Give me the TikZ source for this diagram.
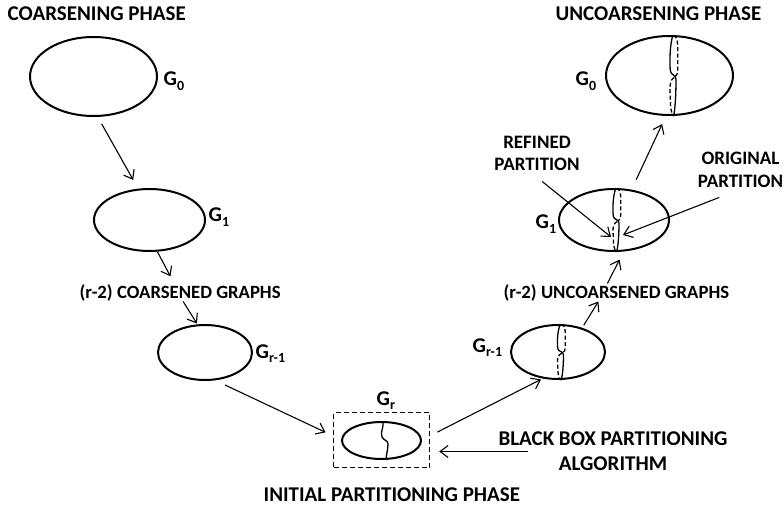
\documentclass[tikz,border=0pt]{standalone}
\usepackage{fontspec}
\setmainfont{Carlito}
\usetikzlibrary{shapes.geometric,arrows.meta}
\newcommand{\Gsub}[1]{G\raisebox{-4.5pt}{\fontsize{14}{14}\selectfont #1}}
\tikzset{pics/cut/.style={code={
  \draw (0,-1) .. controls (-0.1,-0.8) and (-0.12,-0.35) .. (-0.09,-0.12) .. controls (-0.07,0) and (0.1,-0.03) .. (0.1,0.1) .. controls (0.1,0.45) and (0.07,0.85) .. (0.02,1);
  \draw[dash pattern=on 4pt off 2.5pt] (0.02,-0.99) .. controls (0.15,-0.95) and (0.16,-0.8) .. (0.16,-0.6) -- (0.16,-0.15) .. controls (0.16,-0.05) and (0.12,0) .. (0.08,0.02);
  \draw[dash pattern=on 4pt off 2.5pt] (0.04,0.05) .. controls (-0.08,0.1) and (-0.1,0.2) .. (-0.1,0.35) -- (-0.08,0.75) .. controls (-0.06,0.9) and (-0.02,0.97) .. (0.02,1);
}}}
\begin{document}
\begin{tikzpicture}[x=1pt, y=-1pt, line width=1.3pt,
  graph/.style={draw, ellipse, inner sep=0pt, line width=2pt},
  arr/.style={-{Straight Barb[length=8pt, width=12pt]}, line width=1.1pt},
  txt/.style={font=\bfseries\fontsize{21}{22}\selectfont, inner sep=0pt},
  small/.style={font=\bfseries\fontsize{18.7}{22}\selectfont, inner sep=0pt}]
  \useasboundingbox (0,0) rectangle (784,505);
  % headings
  \node[txt, anchor=base west] (cph) at (7,21) {COARSENING PHASE};
  \node[txt, anchor=base west] (uph) at (555,21) {UNCOARSENING PHASE};
  \node[txt, anchor=base west] (iph) at (263,501) {INITIAL PARTITIONING PHASE};
  % coarsening side
  \node[graph, minimum width=127, minimum height=79] (g0L) at (93.5,76.5) {};
  \node[txt, anchor=base west] (g0Llbl) at (163,86) {\Gsub{0}};
  \node[graph, minimum width=111, minimum height=62] (g1L) at (149.5,220) {};
  \node[txt, anchor=base west] (g1Llbl) at (208,222) {\Gsub{1}};
  \node[small, anchor=base west] (cg) at (79,298) {(r-2) COARSENED GRAPHS};
  \node[graph, minimum width=94, minimum height=55] (grm1L) at (205,352.5) {};
  \node[txt, anchor=base west] (grm1Llbl) at (255,358) {\Gsub{r-1}};
  % initial partitioning
  \node[draw, dash pattern=on 5pt off 3pt, line width=1.4pt, minimum width=96, minimum height=55] (box) at (381.5,440) {};
  \node[graph, minimum width=79, minimum height=37] (gr) at (381.5,440.5) {};
  \draw (383,421) .. controls (384,428) and (380,432) .. (382,437) .. controls (384,441) and (388,440) .. (388,444) .. controls (388,450) and (386,455) .. (386,460);
  \node[txt, anchor=base west] (grlbl) at (376,405) {\Gsub{r}};
  \node[txt, align=center] (bb) at (613,451.5) {BLACK BOX PARTITIONING\\[3pt]ALGORITHM};
  % uncoarsening side
  \node[graph, minimum width=94, minimum height=54] (grm1R) at (558,352) {};
  \pic[xscale=30, yscale=28] at (560.5,352) {cut};
  \node[txt, anchor=base west] (grm1Rlbl) at (472,352) {\Gsub{r-1}};
  \node[small, anchor=base west] (ug) at (503,298) {(r-2) UNCOARSENED GRAPHS};
  \node[graph, minimum width=110, minimum height=62] (g1R) at (614,220) {};
  \pic[xscale=30, yscale=32] at (616,220) {cut};
  \node[txt, anchor=base west] (g1Rlbl) at (535,229) {\Gsub{1}};
  \node[graph, minimum width=127, minimum height=79] (g0R) at (669.5,75.5) {};
  \pic[xscale=30, yscale=40.5] at (673,75.5) {cut};
  \node[txt, anchor=base west] (g0Rlbl) at (575,86) {\Gsub{0}};
  \node[small, font=\bfseries\fontsize{19}{22}\selectfont, align=center] (rp) at (537,153) {REFINED\\PARTITION};
  \node[small, font=\bfseries\fontsize{19}{23}\selectfont, align=center] (op) at (740.5,169.5) {ORIGINAL\\PARTITION};
  \coordinate (rptip) at ([shift={(-3,17)}]g1R.center);
  \coordinate (optip) at ([shift={(9,15)}]g1R.center);
  % connectors
  \draw[arr, shorten <=8pt, shorten >=10pt] (g0L.-84) -- (g1L.110);
  \draw[arr, shorten >=8pt] (g1L.-76) -- ([xshift=-6pt]cg.north);
  \draw[arr, shorten >=1pt] ([xshift=3pt]cg.south) -- (grm1L.105);
  \draw[arr, shorten <=11pt, shorten >=8pt] (grm1L.-70) -- (box.175);
  \draw[arr, shorten <=8pt, shorten >=2pt] (box.5) -- (grm1R.-120);
  \draw[arr] ([xshift=30pt]bb.west) -- ([xshift=9pt]bb.west -| box.east);
  \draw[arr, shorten <=3pt] (grm1R.45) -- ([xshift=-18pt]ug.south);
  \draw[arr, shorten >=9pt] ([xshift=-9pt]ug.north) -- (g1R.-73);
  \draw[arr, shorten <=11pt, shorten >=9pt] (g1R.60) -- (g0R.-95);
  \draw[arr, shorten <=17pt] ([xshift=-8pt]rp.south) -- (rptip);
  \draw[arr, shorten <=26pt] ([xshift=3pt]op.south) -- (optip);
\end{tikzpicture}
\end{document}
